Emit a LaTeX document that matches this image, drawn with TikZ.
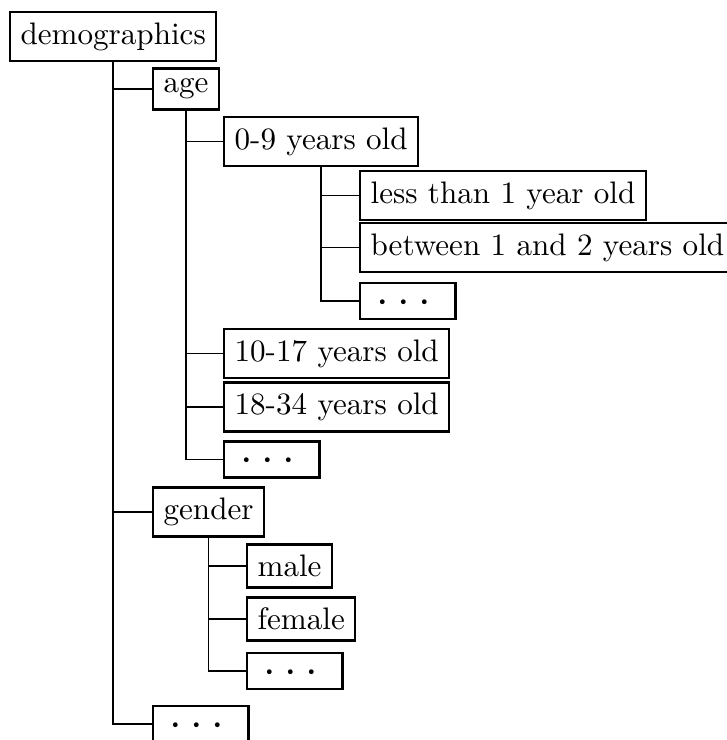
\documentclass[tikz,border=0pt]{standalone}
\usepackage{graphicx}
\tikzset{
  box/.style={draw, line width=0.8pt, anchor=west, inner sep=3.33pt},
  dotsbox/.style={box, text height=2.5pt, text depth=2.5pt},
  link/.style={line width=0.45pt},
}
\newcommand{\onedot}{\makebox[0pt]{\raisebox{-3.9pt}{\scalebox{1.45}{$\cdot$}}}}
\newcommand{\mydots}{\makebox[23.9pt][l]{\hspace{3.95pt}\onedot\hspace{6.75pt}\onedot\hspace{6.75pt}\onedot}}
\begin{document}
\begin{tikzpicture}[x=0.3215pt, y=-0.3215pt]
\useasboundingbox (0,0) rectangle (726,740);
\node[box] (demo) at (9,36.5) {demographics};
\node[box] (age) at (152,89) {age};
\node[box] (a09) at (223,141.5) {0-9 years old};
\node[box] (less) at (359,195.5) {less than 1 year old};
\node[box] (betw) at (359,247.5) {between 1 and 2 years old};
\node[dotsbox] (d1) at (359,301) {\mydots};
\node[box] (a1017) at (223,353.5) {10-17 years old};
\node[box] (a1834) at (223,407) {18-34 years old};
\node[dotsbox] (d2) at (223,459.5) {\mydots};
\node[box] (gender) at (152,512) {gender};
\node[box] (male) at (246,566) {male};
\node[box] (female) at (246,619) {female};
\node[dotsbox] (d3) at (246,671) {\mydots};
\node[dotsbox] (d4) at (152,724) {\mydots};
\foreach \p/\c in {demo/age, demo/gender, demo/d4,
                   age/a09, age/a1017, age/a1834, age/d2,
                   a09/less, a09/betw, a09/d1,
                   gender/male, gender/female, gender/d3}
  \draw[link] (\p.south) |- (\c.west);
\end{tikzpicture}
\end{document}
